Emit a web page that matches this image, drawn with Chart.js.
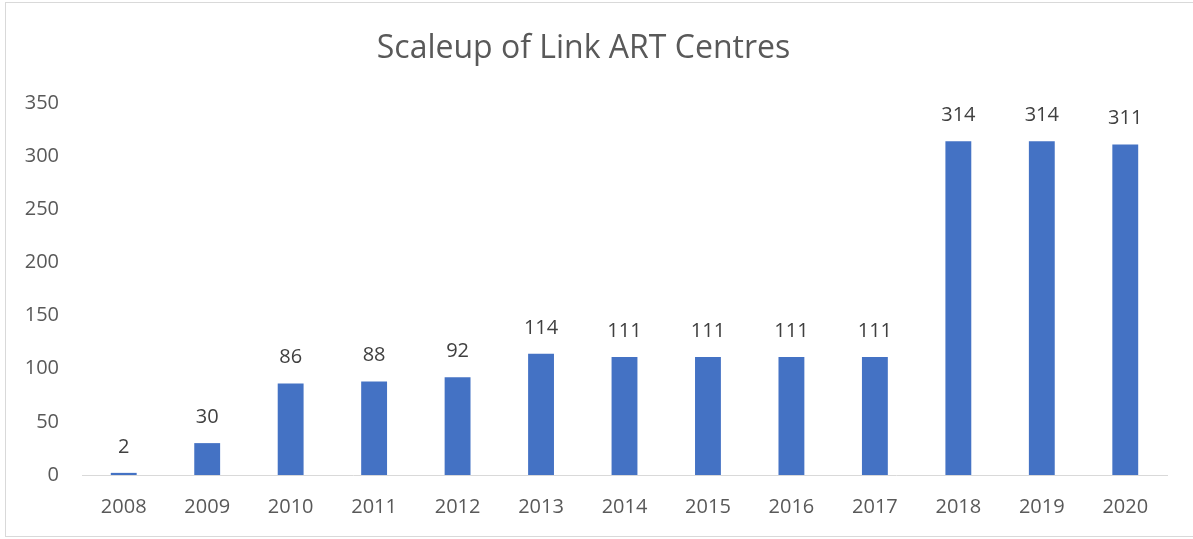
<!DOCTYPE html>
<html>
<head>
<meta charset="utf-8">
<script src="https://cdn.jsdelivr.net/npm/chart.js@4.4.1/dist/chart.umd.min.js"></script>
<style>
  html, body { margin: 0; padding: 0; background: #ffffff; }
  #wrap { position: relative; width: 1193px; height: 539px; overflow: hidden; }
  #frame { position: absolute; left: 5px; top: 2px; width: 1200px; height: 535px; border: 1px solid #d9d9d9; box-sizing: border-box; pointer-events: none; }
  canvas { position: absolute; left: 0; top: 0; }
</style>
</head>
<body>
<div id="wrap">
  <div id="frame"></div>
  <canvas id="c" width="1193" height="539"></canvas>
</div>
<script>
const categories = ["2008","2009","2010","2011","2012","2013","2014","2015","2016","2017","2018","2019","2020"];
const centres = [2, 30, 86, 88, 92, 114, 111, 111, 111, 111, 314, 314, 311];
const yTicks = [0, 50, 100, 150, 200, 250, 300, 350];

const FONT = "'Open Sans', 'Liberation Sans', sans-serif";

const valueLabels = {
  id: 'valueLabels',
  afterDatasetsDraw(chart) {
    const ctx = chart.ctx;
    const meta = chart.getDatasetMeta(0);
    ctx.save();
    ctx.font = "20px " + FONT;
    ctx.fillStyle = '#404040';
    ctx.textAlign = 'center';
    ctx.textBaseline = 'middle';
    meta.data.forEach((bar, i) => {
      ctx.fillText(String(centres[i]), bar.x, bar.y - 26);
    });
    ctx.restore();
  }
};

new Chart(document.getElementById('c'), {
  type: 'bar',
  data: {
    labels: categories,
    datasets: [{
      data: centres,
      backgroundColor: '#4472c4',
      borderWidth: 0,
      categoryPercentage: 1,
      barPercentage: 0.31
    }]
  },
  options: {
    responsive: false,
    animation: false,
    devicePixelRatio: 1,
    layout: { padding: { left: 0, right: 26, top: 0, bottom: 0 } },
    plugins: {
      legend: { display: false },
      tooltip: { enabled: false },
      title: {
        display: true,
        text: 'Scaleup of Link ART Centres',
        color: '#595959',
        font: { family: FONT, size: 32, weight: 'normal' },
        padding: { top: 30, bottom: 34.6 }
      }
    },
    scales: {
      x: {
        grid: { display: false, drawTicks: false },
        border: { display: true, color: '#d9d9d9', width: 1 },
        ticks: { color: '#595959', font: { family: FONT, size: 20 }, padding: 20, maxRotation: 0 }
      },
      y: {
        min: 0,
        max: 350,
        afterBuildTicks(scale) { scale.ticks = yTicks.map(v => ({ value: v })); },
        afterFit(scale) { scale.width = 82; },
        grid: { display: false, drawTicks: false },
        border: { display: false },
        ticks: { color: '#595959', font: { family: FONT, size: 20 }, padding: 23 }
      }
    }
  },
  plugins: [valueLabels]
});
</script>
</body>
</html>
